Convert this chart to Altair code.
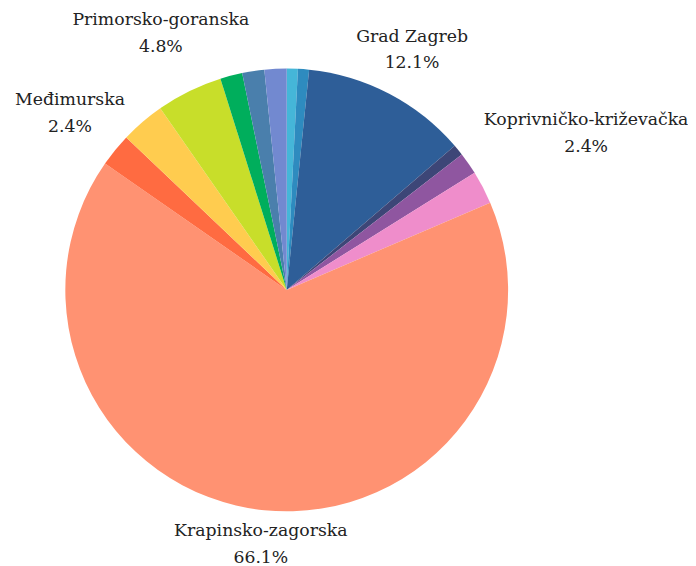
import math
import altair as alt
import pandas as pd

# Slices clockwise from 12 o'clock
names = ["Ostalo 1", "Ostalo 2", "Grad Zagreb", "Ostalo 3", "Ostalo 4",
         "Koprivničko-križevačka", "Krapinsko-zagorska", "Međimurska",
         "Ostalo 5", "Primorsko-goranska", "Ostalo 6", "Ostalo 7", "Ostalo 8"]
counts = [1, 1, 15, 1, 2, 3, 82, 3, 4, 6, 2, 2, 2]
colors = ["#45B6D8", "#2E8BBF", "#2E5E98", "#3D4677", "#8F56A0",
          "#EF8DCB", "#FF9272", "#FF6B41", "#FFCC4F", "#C8DE2A",
          "#00AE5C", "#4A7FAC", "#7289D0"]
labeled = ["Grad Zagreb", "Koprivničko-križevačka", "Krapinsko-zagorska",
           "Međimurska", "Primorsko-goranska"]

CX, CY, R = 282, 282, 224
FONT = "DejaVu Serif"
FS = 17.5
LH = 27

total = sum(counts)
rows = []
cum = 0
for i, (n, c) in enumerate(zip(names, counts)):
    pct = c / total * 100
    mid = (cum + c / 2) / total * 2 * math.pi
    cum += c
    if n in labeled:
        pct_txt = f"{pct:.1f}%"
        label = f"{n}\n{pct_txt}"
        half_w = 5.3 * max(len(n), len(pct_txt))
        half_h = LH * 0.75
        lr = R + 5 + abs(math.sin(mid)) * half_w + abs(math.cos(mid)) * half_h
    else:
        label = ""
        lr = R
    rows.append({"name": n, "count": c, "order": i, "label": label,
                 "lr": lr, "mid": mid})
df = pd.DataFrame(rows)

arcs = alt.Chart(df).mark_arc(radius=R, stroke=None).encode(
    theta=alt.Theta("count:Q", stack=True),
    order=alt.Order("order:Q"),
    color=alt.Color("name:N", scale=alt.Scale(domain=names, range=colors), legend=None),
    x=alt.value(CX),
    y=alt.value(CY),
)

texts = alt.Chart(df).transform_filter(
    alt.datum.label != ""
).mark_text(
    font=FONT, fontSize=FS, lineBreak="\n", lineHeight=LH,
    align="center", baseline="middle", color="#222222", dy=-LH / 2,
).encode(
    theta=alt.Theta("mid:Q", scale=None, stack=None),
    radius=alt.Radius("lr:Q", scale=None),
    text="label:N",
    x=alt.value(CX),
    y=alt.value(CY),
)

chart = alt.layer(arcs, texts).resolve_scale(theta="independent").properties(
    width=688, height=558,
    padding=0,
    autosize=alt.AutoSizeParams(type="none"),
).configure_view(stroke=None)

chart.save("out.html", embed_options={"renderer": "svg", "actions": False})
